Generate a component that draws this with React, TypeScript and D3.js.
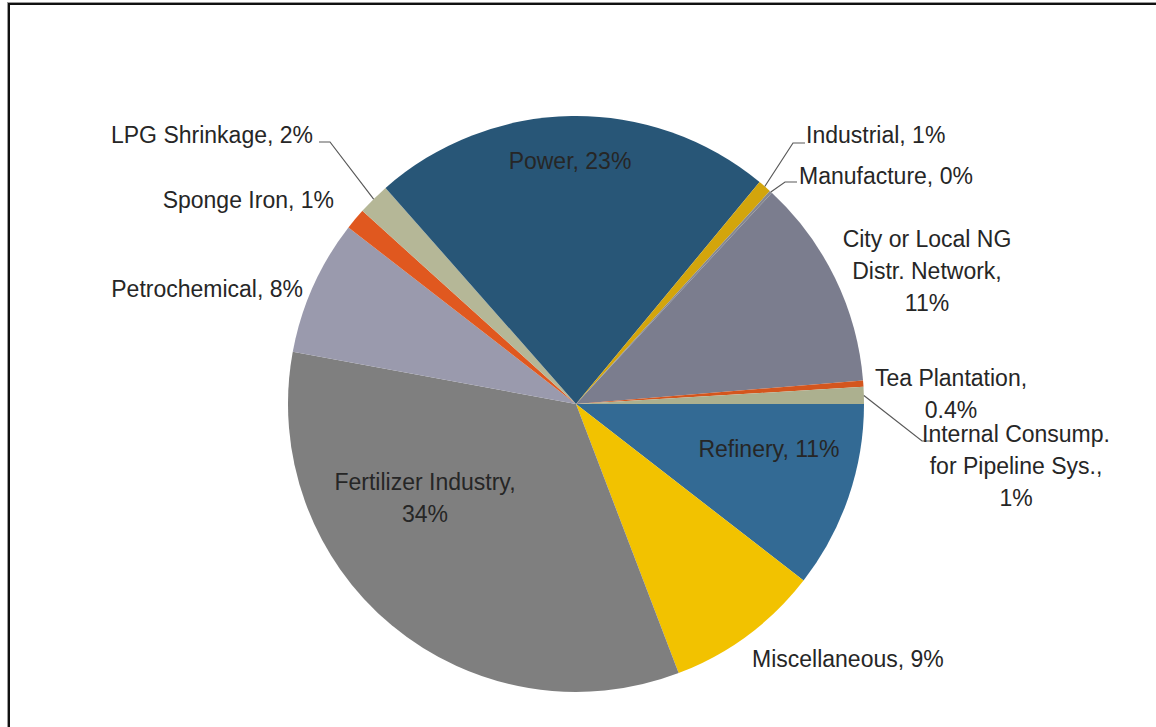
import React from 'react';
import * as d3 from 'd3';

// Slice data, clockwise starting at 3 o'clock
const categories = [
  'Refinery', 'Miscellaneous', 'Fertilizer Industry', 'Petrochemical', 'Sponge Iron',
  'LPG Shrinkage', 'Power', 'Industrial', 'Manufacture', 'City or Local NG Distr. Network',
  'Tea Plantation', 'Internal Consump. for Pipeline Sys.',
];
const shares = [10.5, 8.7, 33.7, 7.6, 1.2, 1.8, 22.5, 0.75, 0.15, 11.8, 0.35, 0.95];
const labelLines = [
  ['Refinery, 11%'],
  ['Miscellaneous, 9%'],
  ['Fertilizer Industry,', '34%'],
  ['Petrochemical, 8%'],
  ['Sponge Iron, 1%'],
  ['LPG Shrinkage, 2%'],
  ['Power, 23%'],
  ['Industrial, 1%'],
  ['Manufacture, 0%'],
  ['City or Local NG', 'Distr. Network,', '11%'],
  ['Tea Plantation,', '0.4%'],
  ['Internal Consump.', 'for Pipeline Sys.,', '1%'],
];
const colors = [
  '#336a94', '#f2c200', '#7f7f7f', '#9a9aad', '#e0581f', '#b5b797',
  '#285677', '#d3a50c', '#858790', '#7b7d8e', '#d4561e', '#acb08f',
];

// Label placement relative to the pie centre (first baseline), plus leader elbows
type LabelPos = { dx: number; dy: number; anchor: string; elbow?: [number, number][] };
const labelPos: LabelPos[] = [
  { dx: 193, dy: 53, anchor: 'middle' },
  { dx: 176, dy: 263, anchor: 'start' },
  { dx: -151, dy: 86, anchor: 'middle' },
  { dx: -273, dy: -107, anchor: 'end' },
  { dx: -242, dy: -196, anchor: 'end' },
  { dx: -263, dy: -261, anchor: 'end', elbow: [[-246, -262], [-257, -262]] },
  { dx: -6, dy: -235, anchor: 'middle' },
  { dx: 230, dy: -261, anchor: 'start', elbow: [[217, -261], [229, -261]] },
  { dx: 223, dy: -220, anchor: 'start', elbow: [[209, -222], [221, -222]] },
  { dx: 351, dy: -157, anchor: 'middle' },
  { dx: 375, dy: -18, anchor: 'middle' },
  { dx: 440, dy: 38, anchor: 'middle', elbow: [[346, 37], [357, 37]] },
];

const width = 1156;
const height = 727;
const cx = 576;
const cy = 404;
const radius = 288;
const lineHeight = 32;

type Slice = { name: string; value: number; i: number };
const slices: Slice[] = categories.map((name, i) => ({ name, value: shares[i], i }));

const pie = d3.pie<Slice>()
  .value((d) => d.value)
  .sort(null)
  .startAngle(Math.PI / 2)
  .endAngle(Math.PI / 2 + Math.PI * 2);

const arc = d3.arc<d3.PieArcDatum<Slice>>()
  .innerRadius(0)
  .outerRadius(radius);

// Zero-width arc on the rim, used for leader line anchors
const rimArc = d3.arc<d3.PieArcDatum<Slice>>()
  .innerRadius(radius)
  .outerRadius(radius);

const App: React.FC = () => {
  const arcs = pie(slices);
  const leader = d3.line();

  return (
    <svg
      width={width}
      height={height}
      style={{ position: 'absolute', left: 0, top: 0, background: '#fff' }}
    >
      {/* chart frame */}
      <rect x={7.5} y={2.5} width={1300} height={900} fill="none" stroke="#9a9a9a" strokeWidth={1} />
      <rect x={9} y={4} width={1300} height={900} fill="none" stroke="#111" strokeWidth={2} />

      <g transform={`translate(${cx},${cy})`}>
        {arcs.map((a) => (
          <path key={a.data.name} d={arc(a) ?? ''} fill={colors[a.data.i]} />
        ))}

        {arcs.map((a) => {
          const pos = labelPos[a.data.i];
          if (!pos.elbow) return null;
          const start = rimArc.centroid(a) as [number, number];
          return (
            <path
              key={`leader-${a.data.name}`}
              d={leader([start, ...pos.elbow]) ?? ''}
              fill="none"
              stroke="#595959"
              strokeWidth={1.2}
            />
          );
        })}

        {arcs.map((a) => {
          const pos = labelPos[a.data.i];
          return (
            <text
              key={`label-${a.data.name}`}
              x={pos.dx}
              y={pos.dy}
              textAnchor={pos.anchor}
              fontFamily="'Liberation Sans', Arial, sans-serif"
              fontSize={23}
              fill="#262626"
            >
              {labelLines[a.data.i].map((line, k) => (
                <tspan key={k} x={pos.dx} y={pos.dy + k * lineHeight}>{line}</tspan>
              ))}
            </text>
          );
        })}
      </g>
    </svg>
  );
};

export default App;
